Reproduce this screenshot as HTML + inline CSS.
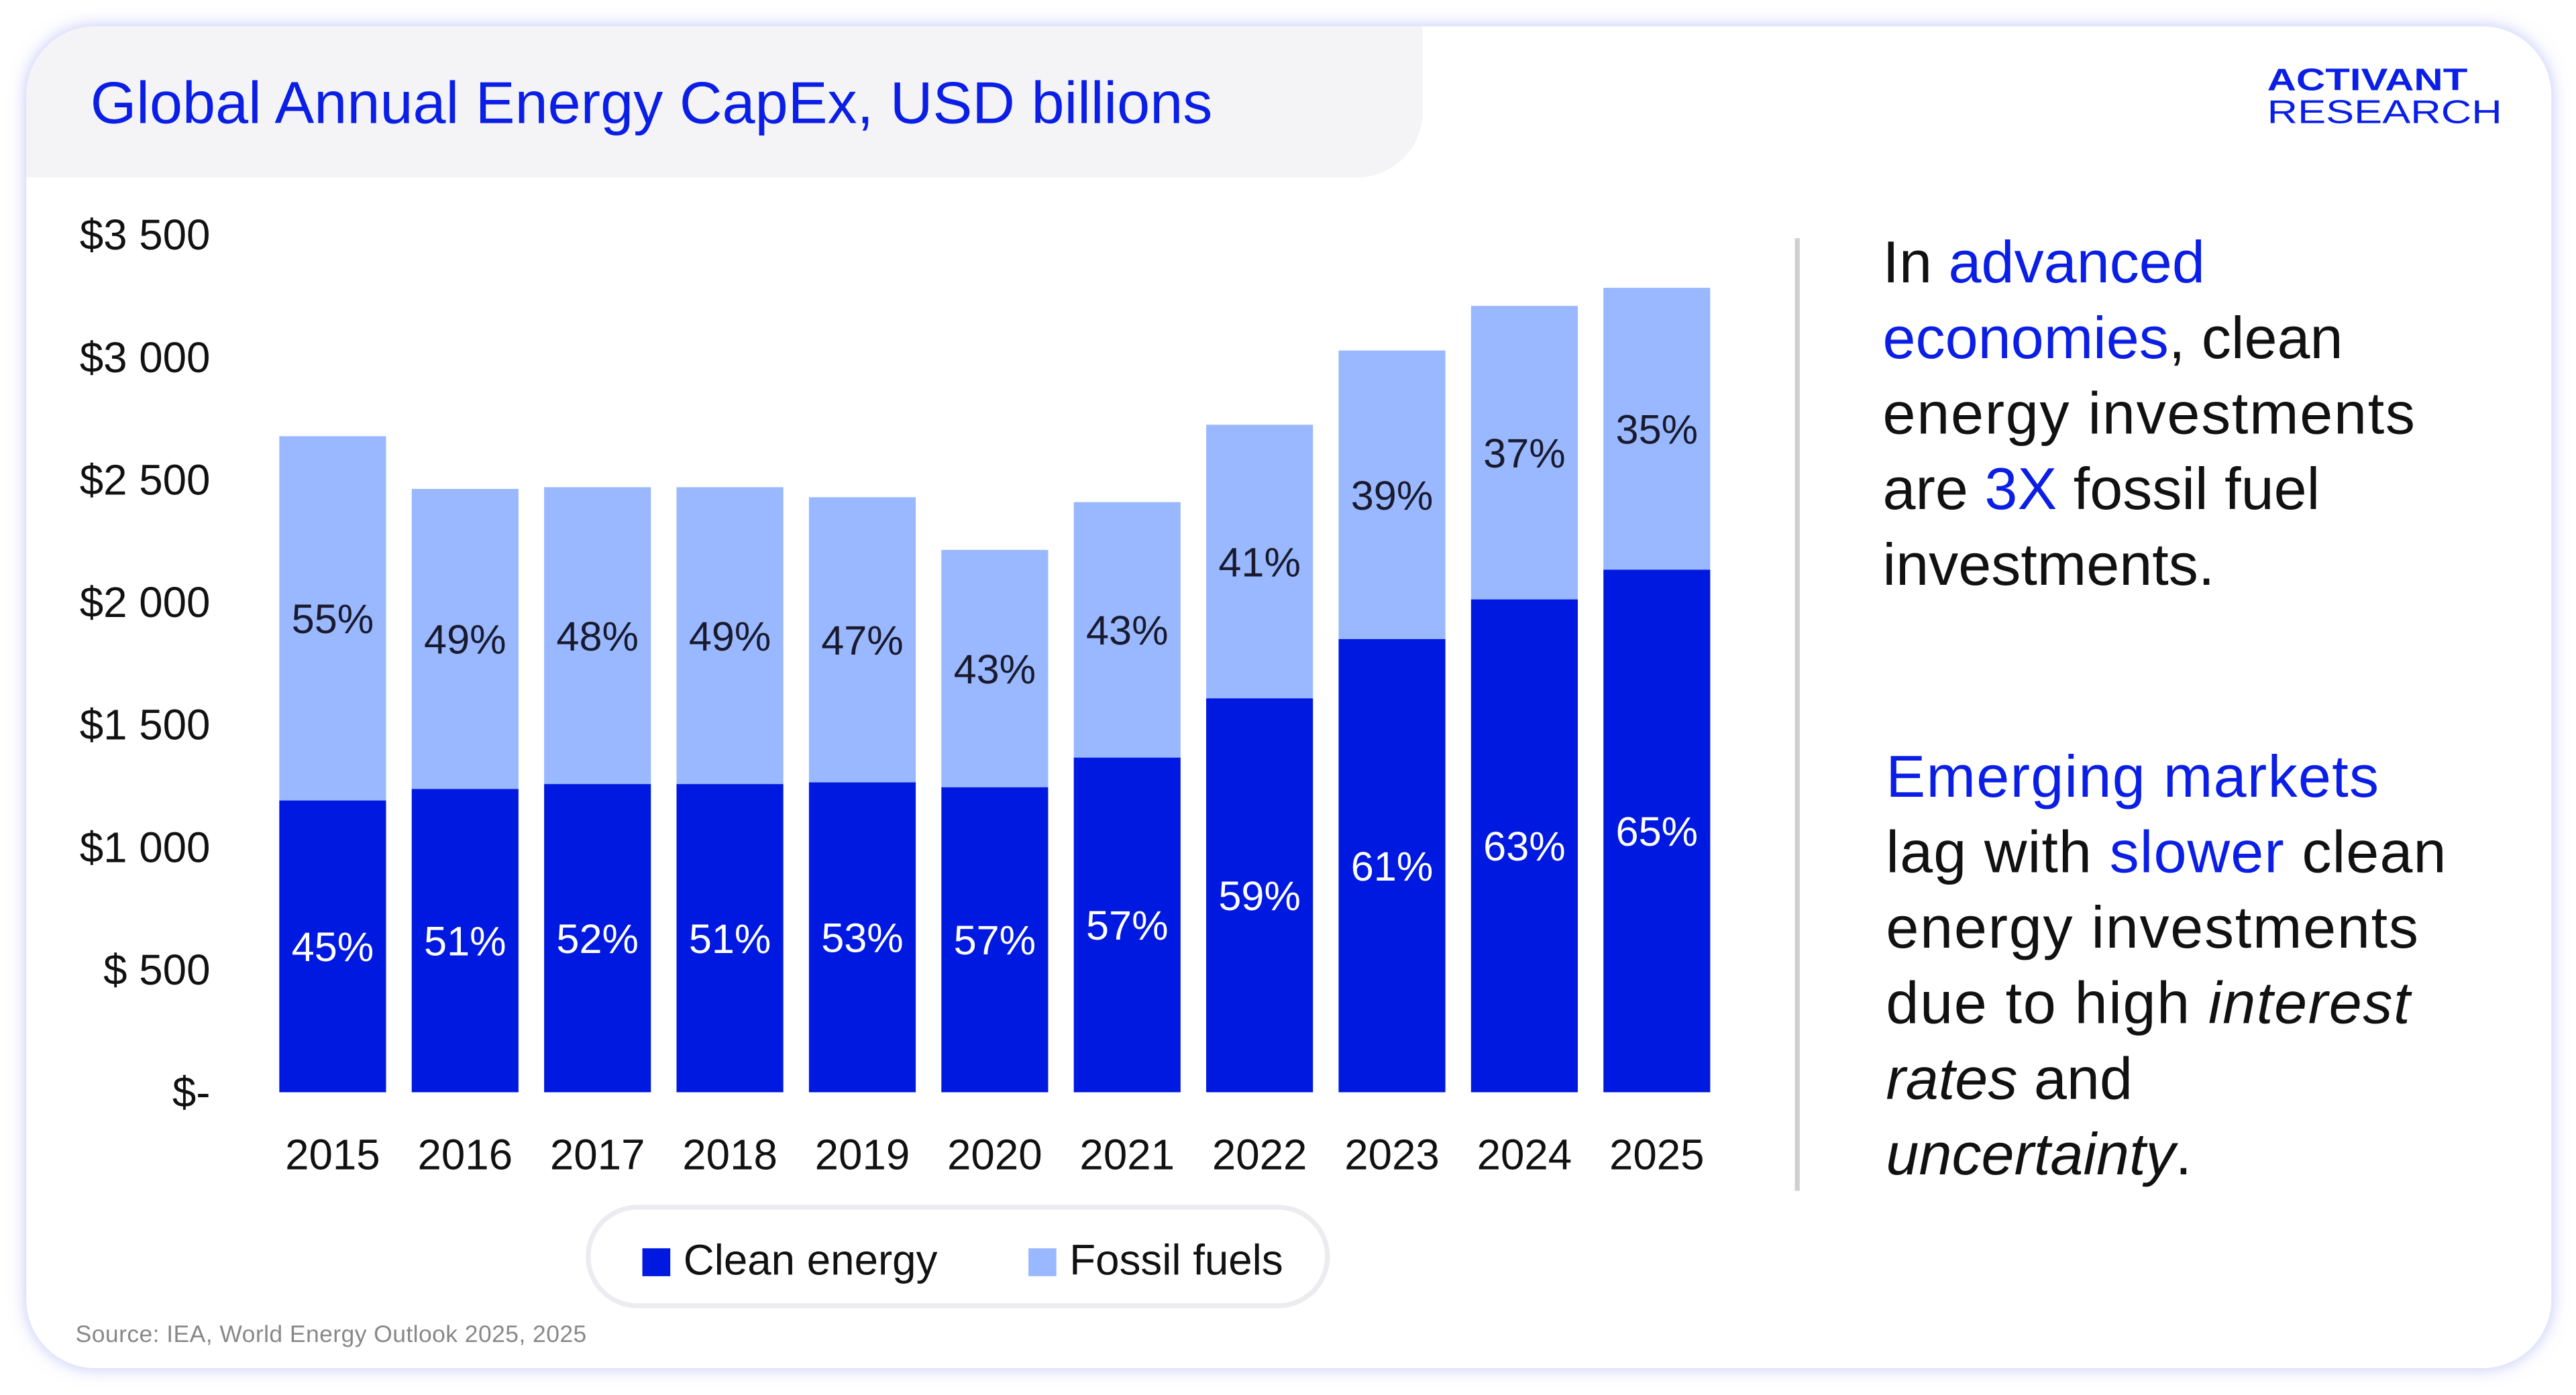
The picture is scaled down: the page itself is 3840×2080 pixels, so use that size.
<!DOCTYPE html>
<html><head><meta charset="utf-8"><style>
html,body{margin:0;padding:0;background:#fff;width:3840px;height:2080px;overflow:hidden}
svg{display:block}
text{font-family:"Liberation Sans",sans-serif}
</style></head><body>
<svg id="chart" width="3840" height="2080" viewBox="0 0 1568 849.33" xmlns="http://www.w3.org/2000/svg">
<defs>
<filter id="glow" x="-5%" y="-5%" width="110%" height="110%"><feDropShadow dx="0" dy="0" stdDeviation="5" flood-color="#b8bdf5" flood-opacity="0.9"/></filter>
</defs>
<rect x="16" y="16" width="1537" height="817" rx="42" fill="#fff" filter="url(#glow)"/>
<path d="M16 58 A42 42 0 0 1 58 16 L866 16 L866 68 A40 40 0 0 1 826 108 L16 108 Z" fill="#f4f4f7"/>
<text x="55" y="75" font-size="36" fill="#0a1ee6" textLength="683" lengthAdjust="spacing">Global Annual Energy CapEx, USD billions</text>
<g fill="#0a1ee6">
<text x="1380" y="55" font-size="19" font-weight="bold" textLength="122" lengthAdjust="spacingAndGlyphs">ACTIVANT</text>
<text x="1380" y="75" font-size="20" textLength="143" lengthAdjust="spacingAndGlyphs">RESEARCH</text>
</g>
<g id="yaxis"></g>
<g id="bars"></g>
<g id="xaxis"></g>
<line x1="1094" y1="145" x2="1094" y2="725" stroke="#d0d0d0" stroke-width="3"/>
<g font-size="36" fill="#111">
<text x="1146" y="172">In <tspan fill="#0a1ee6">advanced</tspan></text>
<text x="1146" y="218"><tspan fill="#0a1ee6">economies</tspan>, clean</text>
<text x="1146" y="264" textLength="324">energy investments</text>
<text x="1146" y="310">are <tspan fill="#0a1ee6">3X</tspan> fossil fuel</text>
<text x="1146" y="356">investments.</text>
</g>
<g font-size="36" fill="#111">
<text x="1148" y="485" fill="#0a1ee6" textLength="300">Emerging markets</text>
<text x="1148" y="531" textLength="341">lag with <tspan fill="#0a1ee6">slower</tspan> clean</text>
<text x="1148" y="577" textLength="324">energy investments</text>
<text x="1148" y="623" textLength="319">due to high <tspan font-style="italic">interest</tspan></text>
<text x="1148" y="669"><tspan font-style="italic">rates</tspan> and</text>
<text x="1148" y="715"><tspan font-style="italic">uncertainty</tspan>.</text>
</g>
<g>
<rect x="358" y="735" width="450" height="60" rx="30" fill="#fff" stroke="#ececf0" stroke-width="3"/>
<rect x="391" y="760" width="17" height="17" fill="#0019e0"/>
<text x="416" y="776" font-size="26" fill="#111">Clean energy</text>
<rect x="626" y="760" width="17" height="17" fill="#99b8ff"/>
<text x="651" y="776" font-size="26" fill="#111">Fossil fuels</text>
</g>
<text x="46" y="817" font-size="14.5" fill="#888" textLength="311">Source: IEA, World Energy Outlook 2025, 2025</text>
</svg>
<script>
const years=["2015","2016","2017","2018","2019","2020","2021","2022","2023","2024","2025"];
const cleanVals=[1191,1238,1258,1258,1265,1245,1366,1608,1850,2012,2133];
const totalVals=[2678,2463,2470,2470,2429,2214,2409,2725,3028,3210,3284];
const cleanPct=["45%","51%","52%","51%","53%","57%","57%","59%","61%","63%","65%"];
const fossilPct=["55%","49%","48%","49%","47%","43%","43%","41%","39%","37%","35%"];
const yTicks=[0,500,1000,1500,2000,2500,3000,3500];
const yTickLabels=["$-","$ 500","$1 000","$1 500","$2 000","$2 500","$3 000","$3 500"];
const NS="http://www.w3.org/2000/svg";
const y0=665,y1=143,yMax=3500;
function ys(v){return y0-(v/yMax)*(y0-y1);}
const x0=170,step=80.6,bw=65;
function xs(i){return x0+i*step;}
function mk(tag,attrs,parent,txt){const e=document.createElementNS(NS,tag);for(const k in attrs)e.setAttribute(k,attrs[k]);if(txt!==undefined)e.textContent=txt;parent.appendChild(e);return e;}
const ya=document.getElementById('yaxis'),ba=document.getElementById('bars'),xa=document.getElementById('xaxis');
yTicks.forEach((t,i)=>{
  const e=mk('text',{x:128,y:ys(t)+9,'font-size':26,fill:'#111','text-anchor':'end'},ya,yTickLabels[i]);
  
  
});
years.forEach((yr,i)=>{
  const x=xs(i);
  const f=mk('rect',{x:x,y:ys(totalVals[i]),width:bw,height:ys(cleanVals[i])-ys(totalVals[i]),fill:'#99b8ff'},ba);
  
  
  const c=mk('rect',{x:x,y:ys(cleanVals[i]),width:bw,height:ys(0)-ys(cleanVals[i]),fill:'#0019e0'},ba);
  
  
  const fl=mk('text',{x:x+bw/2,y:(ys(totalVals[i])+ys(cleanVals[i]))/2+9,'font-size':25,fill:'#1a1a2e','text-anchor':'middle'},ba,fossilPct[i]);
  
  
  const cl=mk('text',{x:x+bw/2,y:(ys(cleanVals[i])+ys(0))/2+9,'font-size':25,fill:'#fff','text-anchor':'middle'},ba,cleanPct[i]);
  
  
  const xl=mk('text',{x:x+bw/2,y:712,'font-size':26,fill:'#111','text-anchor':'middle'},xa,yr);
  
  
});
</script>
</body></html>
